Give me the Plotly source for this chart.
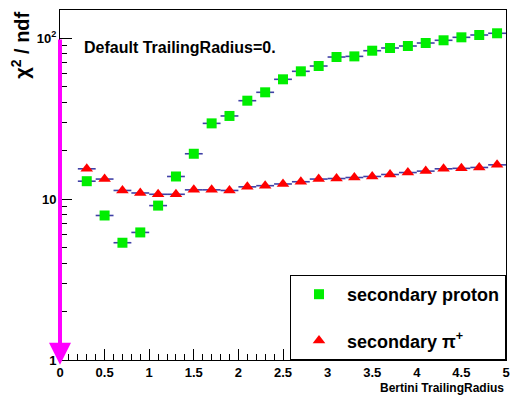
import plotly.graph_objects as go

# ---- data ----
radius = [0.3, 0.5, 0.7, 0.9, 1.1, 1.3, 1.5, 1.7, 1.9, 2.1, 2.3, 2.5,
          2.7, 2.9, 3.1, 3.3, 3.5, 3.7, 3.9, 4.1, 4.3, 4.5, 4.7, 4.9]
proton_chi2 = [12.9, 7.9, 5.35, 6.2, 9.1, 13.8, 19.1, 29.5, 32.8, 40.8, 46.0, 55.4,
               62.1, 67.0, 76.2, 76.9, 83.4, 86.7, 89.2, 93.1, 96.8, 101.0, 104.4, 107.0]
pion_chi2 = [15.4, 13.3, 11.3, 10.9, 10.7, 10.7, 11.4, 11.4, 11.3, 11.9, 12.1, 12.4,
             12.8, 13.3, 13.4, 13.6, 13.8, 14.2, 14.6, 14.9, 15.4, 15.5, 15.7, 16.3]
bin_half_width = 0.1

y_tickvals = [1, 10, 100]
y_ticktext = ["1", "10", "10<sup>2</sup>"]
y_minor = [2, 3, 4, 5, 6, 7, 8, 9, 20, 30, 40, 50, 60, 70, 80, 90]

FONT = "Liberation Sans, Arial, sans-serif"
ERR = dict(type="constant", value=bin_half_width, symmetric=True,
           color="rgba(30,30,150,0.85)", thickness=1.6, width=0)

fig = go.Figure()
fig.add_trace(go.Scatter(
    x=radius, y=proton_chi2, mode="markers", name="secondary proton",
    legendgroup="p", error_x=ERR,
    marker=dict(symbol="square", size=10, color="#00ee00", line=dict(width=0)),
))
fig.add_trace(go.Scatter(
    x=radius, y=pion_chi2, mode="markers", name="secondary π<sup>+</sup>",
    legendgroup="pi", error_x=ERR,
    marker=dict(symbol="triangle-up", size=11, color="#ff0000", line=dict(width=0)),
))

# magenta arrow at x = 0 from 10^2 down to (just below) 1
fig.add_annotation(x=0, y=-0.03, ax=0, ay=2, xref="x", yref="y", axref="x", ayref="y",
                   showarrow=True, arrowhead=2, arrowsize=1.1, arrowwidth=4,
                   arrowcolor="#ff00ff", text="")

fig.add_annotation(x=(82 - 60) / 450, y=1 - (47 - 10) / 350, xref="paper", yref="paper",
                   text="<b>Default TrailingRadius=0.</b>",
                   showarrow=False, xanchor="left", yanchor="middle",
                   font=dict(family=FONT, size=16, color="black"))
fig.add_annotation(x=(20 - 60) / 450, y=1, xref="paper", yref="paper",
                   text="<b>χ<sup>2</sup> / ndf</b>", textangle=-90, showarrow=False,
                   xanchor="center", yanchor="top",
                   font=dict(family=FONT, size=20, color="black"))
fig.add_annotation(x=1, y=-(388 - 360) / 350, xref="paper", yref="paper",
                   text="<b>Bertini TrailingRadius</b>", showarrow=False,
                   xanchor="right", yanchor="middle",
                   font=dict(family=FONT, size=12, color="black"))

fig.update_layout(
    width=514, height=396,
    margin=dict(l=60, r=4, t=10, b=36),
    paper_bgcolor="white", plot_bgcolor="white",
    font=dict(family=FONT, color="black"),
    showlegend=True,
    legend=dict(x=1, xanchor="right", y=0, yanchor="bottom",
                bgcolor="white", bordercolor="black", borderwidth=1,
                font=dict(family=FONT, size=18, color="black", weight="bold"),
                tracegroupgap=20, itemwidth=46, entrywidth=180),
    xaxis=dict(range=[0, 5], dtick=0.5, tick0=0, ticks="inside", ticklen=11,
               tickcolor="black", showline=True, linecolor="black", linewidth=1,
               mirror=True, showgrid=False, zeroline=False,
               tickfont=dict(family=FONT, size=13, color="black", weight="bold"),
               minor=dict(dtick=0.1, ticks="inside", ticklen=6, tickcolor="black", showgrid=False)),
    yaxis=dict(type="log", range=[0, 2.174], tickvals=y_tickvals, ticktext=y_ticktext,
               ticks="inside", ticklen=12, tickcolor="black",
               showline=True, linecolor="black", linewidth=1, mirror=True,
               showgrid=False, zeroline=False,
               tickfont=dict(family=FONT, size=13, color="black", weight="bold"),
               minor=dict(tickvals=y_minor, ticks="inside", ticklen=7, tickcolor="black", showgrid=False)),
)

fig.write_html("out.html", config={"displayModeBar": False},
               post_script="document.body.style.margin='0';")
